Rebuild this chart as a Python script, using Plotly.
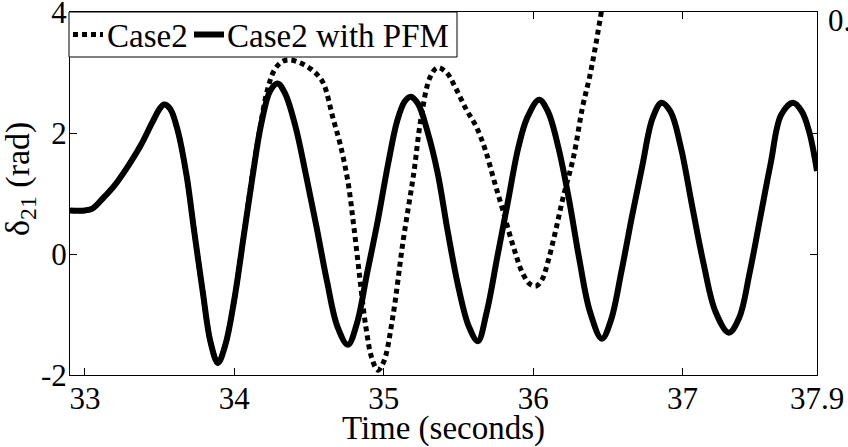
import plotly.graph_objects as go

# ---- data ----
t_pfm = [32.90, 33.00, 33.05, 33.12, 33.20, 33.28, 33.37, 33.45, 33.50, 33.53,
         33.57, 33.62, 33.68, 33.73, 33.79, 33.84, 33.89, 33.94, 34.00, 34.06,
         34.12, 34.18, 34.24, 34.29, 34.34, 34.41, 34.48, 34.55, 34.62, 34.69,
         34.76, 34.82, 34.89, 34.96, 35.03, 35.09, 35.14, 35.18, 35.23, 35.29,
         35.36, 35.43, 35.50, 35.57, 35.63, 35.69, 35.76, 35.83, 35.90, 35.96,
         36.04, 36.10, 36.17, 36.24, 36.31, 36.38, 36.46, 36.52, 36.59, 36.66,
         36.73, 36.80, 36.86, 36.92, 36.99, 37.06, 37.14, 37.22, 37.31, 37.38,
         37.45, 37.52, 37.59, 37.66, 37.74, 37.80, 37.85, 37.90]
v_pfm = [0.72, 0.72, 0.75, 0.92, 1.14, 1.42, 1.78, 2.17, 2.40, 2.47,
         2.40, 2.05, 1.30, 0.40, -0.65, -1.45, -1.80, -1.50, -0.75, 0.25,
         1.25, 2.15, 2.70, 2.82, 2.65, 2.10, 1.30, 0.45, -0.45, -1.20,
         -1.50, -1.15, -0.30, 0.55, 1.50, 2.20, 2.52, 2.60, 2.48, 2.05,
         1.35, 0.35, -0.55, -1.20, -1.44, -0.95, -0.05, 0.85, 1.75, 2.25,
         2.55, 2.35, 1.75, 0.90, -0.10, -0.95, -1.40, -1.10, -0.30, 0.60,
         1.45, 2.25, 2.50, 2.35, 1.75, 0.85, -0.15, -0.95, -1.30, -1.05,
         -0.30, 0.60, 1.50, 2.30, 2.50, 2.35, 2.00, 1.37]

t_case2 = [32.90, 33.00, 33.05, 33.12, 33.20, 33.28, 33.37, 33.45, 33.50, 33.53,
           33.57, 33.62, 33.68, 33.73, 33.79, 33.84, 33.89, 33.94, 34.00, 34.06,
           34.12, 34.17, 34.22, 34.27, 34.32, 34.37, 34.44, 34.51, 34.56, 34.60,
           34.66, 34.71, 34.76, 34.80, 34.84, 34.88, 34.92, 34.96, 35.00, 35.06,
           35.13, 35.20, 35.25, 35.31, 35.36, 35.42, 35.48, 35.55, 35.62, 35.68,
           35.74, 35.80, 35.87, 35.93, 35.98, 36.02, 36.06, 36.10, 36.15, 36.20,
           36.27, 36.33, 36.38, 36.42, 36.46, 36.50]
v_case2 = [0.72, 0.72, 0.75, 0.92, 1.14, 1.42, 1.78, 2.17, 2.40, 2.47,
           2.40, 2.05, 1.30, 0.40, -0.65, -1.45, -1.80, -1.50, -0.75, 0.25,
           1.30, 2.05, 2.70, 3.05, 3.18, 3.21, 3.16, 3.06, 2.95, 2.80,
           2.25, 1.80, 1.20, 0.45, -0.40, -1.20, -1.72, -1.92, -1.78, -1.05,
           0.22, 1.32, 2.25, 2.92, 3.08, 3.00, 2.75, 2.40, 2.10, 1.72,
           1.20, 0.70, 0.10, -0.32, -0.50, -0.53, -0.42, -0.12, 0.38, 0.93,
           1.60, 2.42, 2.95, 3.47, 4.05, 4.60]

series_names = ["Case2", "Case2 with PFM"]
x_tickvals = [33, 34, 35, 36, 37, 37.9]
x_ticktext = ["33", "34", "35", "36", "37", "37.9"]
y_tickvals = [-2, 0, 2, 4]
y_ticktext = ["-2", "0", "2", "4"]

FONT = "Liberation Serif"
W, H = 848, 447
ML, MR, MT, MB = 70, 31, 12, 72
PW, PH = W - ML - MR, H - MT - MB


def px_x(p):
    return (p - ML) / PW


def px_y(p):
    return 1 - (p - MT) / PH


DOT = "5px,4px"

fig = go.Figure()
fig.add_trace(go.Scatter(x=t_case2, y=v_case2, mode="lines", name=series_names[0],
                         showlegend=False,
                         line=dict(color="black", width=5, dash=DOT, shape="spline")))
fig.add_trace(go.Scatter(x=t_pfm, y=v_pfm, mode="lines", name=series_names[1],
                         showlegend=False,
                         line=dict(color="black", width=6, shape="spline")))

axis_common = dict(showline=True, linecolor="black", linewidth=1, mirror="ticks",
                   ticks="inside", ticklen=7, tickwidth=1, tickcolor="black",
                   showgrid=False, zeroline=False, ticklabeloverflow="allow",
                   automargin=False,
                   tickfont=dict(family=FONT, size=31, color="black"))

fig.update_xaxes(range=[32.9, 37.9], tickvals=x_tickvals, ticktext=x_ticktext,
                 ticklabelstandoff=-4,
                 title=dict(text="Time (seconds)", font=dict(family=FONT, size=33, color="black"),
                            standoff=0),
                 **axis_common)
fig.update_yaxes(range=[-2, 4], tickvals=y_tickvals, ticktext=y_ticktext,
                 ticklabelstandoff=-4, **axis_common)

# y-axis title (placed as rotated text, as in the reference)
fig.add_annotation(text="δ<sub>21</sub> (rad)",
                   xref="paper", yref="paper", x=px_x(20), y=px_y(179),
                   xanchor="center", yanchor="middle", textangle=-90, showarrow=False,
                   font=dict(family=FONT, size=34, color="black"))

# clipped label at the top-right corner of the reference
fig.add_annotation(text="0.", xref="paper", yref="paper", x=px_x(826), y=px_y(20),
                   xanchor="left", yanchor="middle", showarrow=False,
                   font=dict(family=FONT, size=31, color="black"))

# ---- legend box (drawn like the reference: box at the top-left of the axes) ----
leg_top, leg_bot = 12, 57
leg_mid = (leg_top + leg_bot) / 2
fig.add_shape(type="rect", xref="paper", yref="paper",
              x0=px_x(69), x1=px_x(457), y0=px_y(leg_bot), y1=px_y(leg_top),
              fillcolor="white", line=dict(color="black", width=1), layer="above")
fig.add_shape(type="line", xref="paper", yref="paper",
              x0=px_x(73), x1=px_x(103), y0=px_y(leg_mid), y1=px_y(leg_mid),
              line=dict(color="black", width=5, dash=DOT), layer="above")
fig.add_shape(type="line", xref="paper", yref="paper",
              x0=px_x(194), x1=px_x(224), y0=px_y(leg_mid), y1=px_y(leg_mid),
              line=dict(color="black", width=6), layer="above")
fig.add_annotation(text=series_names[0], xref="paper", yref="paper",
                   x=px_x(105), y=px_y(leg_mid + 1), xanchor="left", yanchor="middle",
                   showarrow=False, font=dict(family=FONT, size=33, color="black"))
fig.add_annotation(text=series_names[1], xref="paper", yref="paper",
                   x=px_x(225), y=px_y(leg_mid + 1), xanchor="left", yanchor="middle",
                   showarrow=False, font=dict(family=FONT, size=33, color="black"))

fig.update_layout(
    template="none",
    width=W, height=H,
    margin=dict(l=ML, r=MR, t=MT, b=MB),
    paper_bgcolor="white", plot_bgcolor="white",
    showlegend=False,
    font=dict(family=FONT, color="black"),
)

fig.write_html("out.html")
